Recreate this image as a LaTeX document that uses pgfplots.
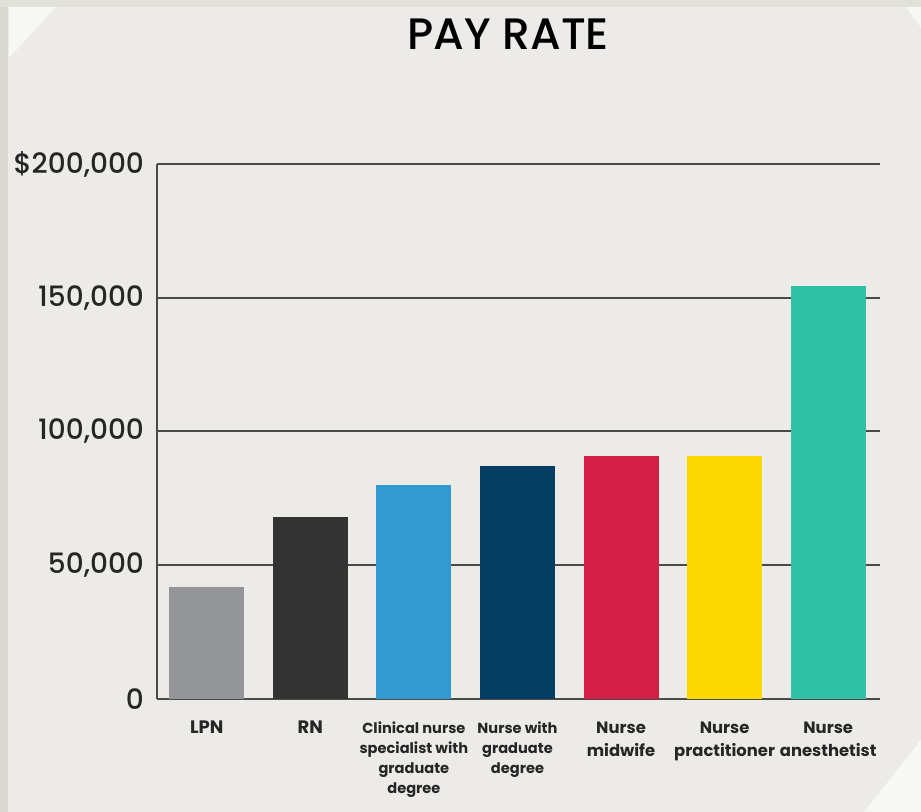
\documentclass[border=0pt]{standalone}
\usepackage{pgfplots}
\pgfplotsset{compat=1.18}
\usepackage{fontspec}
\setmainfont{Poppins}
\newfontfamily\medfont{Poppins Medium}
\definecolor{bg}{HTML}{ECEBE7}
\definecolor{strip}{HTML}{DAD8D0}
\definecolor{corner}{HTML}{F7F7F5}
\definecolor{gridc}{HTML}{4A4A4A}
\definecolor{cLPN}{HTML}{939598}
\definecolor{cRN}{HTML}{333333}
\definecolor{cCNS}{HTML}{3399D1}
\definecolor{cGRAD}{HTML}{053D64}
\definecolor{cMID}{HTML}{D41E46}
\definecolor{cNP}{HTML}{FDD800}
\definecolor{cCRNA}{HTML}{2EC1A5}
\newcommand{\lbl}[3]{{\fontsize{#1}{#2}\selectfont\begin{tabular}[t]{@{}c@{}}#3\end{tabular}}}
\begin{document}
\begin{tikzpicture}
\fill[bg] (0pt,0pt) rectangle (460.5pt,406pt);
\fill[strip] (0pt,0pt) rectangle (4pt,406pt);
\fill[strip!60!bg] (0pt,402.5pt) rectangle (460.5pt,406pt);
\fill[corner] (4.5pt,402.5pt) -- (28pt,402.5pt) -- (4.5pt,377pt) -- cycle;
\fill[corner] (453pt,402.5pt) -- (460.5pt,402.5pt) -- (460.5pt,392pt) -- cycle;
\fill[corner] (432pt,0pt) -- (460.5pt,0pt) -- (460.5pt,36pt) -- cycle;
\path[use as bounding box] (0pt,0pt) rectangle (460.5pt,406pt);
\begin{axis}[
  at={(78.5pt,56.5pt)}, anchor=south west,
  width=361.5pt, height=267.5pt, scale only axis,
  xmin=-0.48, xmax=6.5, ymin=0, ymax=200000,
  axis lines*=left,
  axis line style={-, draw=gridc, line width=1pt},
  ymajorgrids, grid style={draw=gridc, line width=1pt},
  major tick length=0pt,
  scaled y ticks=false,
  ytick={0,50000,100000,150000,200000},
  yticklabels={0,{50,000},{100,000},{150,000},{\$200,000}},
  yticklabel style={font=\medfont\fontsize{14}{14}\selectfont, anchor=east, xshift=-3pt, text=black!85},
  xtick={0,1,2,3,4,5,6},
  xticklabels={
    {\lbl{9}{10}{LPN}},
    {\lbl{9}{10}{RN}},
    {\lbl{7.3}{10}{Clinical nurse\\specialist with\\graduate\\degree}},
    {\lbl{7.3}{10}{Nurse with\\graduate\\degree}},
    {\lbl{8.2}{11.5}{Nurse\\midwife}},
    {\lbl{8.2}{11.5}{Nurse\\practitioner}},
    {\lbl{8.2}{11.5}{Nurse\\anesthetist}}},
  xticklabel style={anchor=base, font=\bfseries, text=black!85, yshift=-17.5pt},
  title={PAY RATE},
  title style={font=\medfont\fontsize{22}{22}\selectfont, at={(axis description cs:0.486,1)}, anchor=base, yshift=51pt},
]
\addplot[ybar, bar shift=0pt, bar width=0.725, fill=cLPN, draw=none] coordinates {(0,42000)};
\addplot[ybar, bar shift=0pt, bar width=0.725, fill=cRN, draw=none] coordinates {(1,68000)};
\addplot[ybar, bar shift=0pt, bar width=0.725, fill=cCNS, draw=none] coordinates {(2,80000)};
\addplot[ybar, bar shift=0pt, bar width=0.725, fill=cGRAD, draw=none] coordinates {(3,87000)};
\addplot[ybar, bar shift=0pt, bar width=0.725, fill=cMID, draw=none] coordinates {(4,91000)};
\addplot[ybar, bar shift=0pt, bar width=0.725, fill=cNP, draw=none] coordinates {(5,91000)};
\addplot[ybar, bar shift=0pt, bar width=0.725, fill=cCRNA, draw=none] coordinates {(6,154500)};
\end{axis}
\end{tikzpicture}
\end{document}
